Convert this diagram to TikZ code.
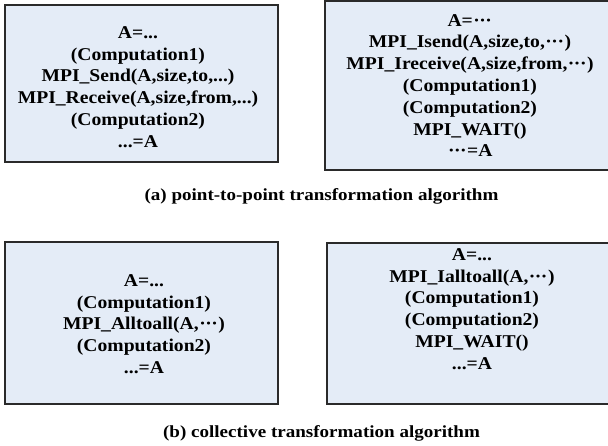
\documentclass[tikz,border=0pt]{standalone}
\usepackage{fontspec}
\setmainfont{Liberation Serif}
\newfontfamily\codefont[FakeStretch=1.09]{Liberation Serif}
\newfontfamily\capfont[FakeStretch=1.12]{Liberation Serif}
\definecolor{boxfill}{HTML}{E4ECF7}
\definecolor{boxline}{HTML}{2A2A2A}
\newcommand{\mdots}{\kern0.5pt·\kern-0.5pt·\kern-0.5pt·\kern0.5pt}
\begin{document}
\begin{tikzpicture}[x=1pt,y=-1pt,
  box/.style={draw=boxline, fill=boxfill, line width=1.1pt, inner sep=0pt, outer sep=0pt, anchor=north west},
  code/.style={align=center, inner sep=0pt, font={\codefont\fontsize{18}{21.8}\selectfont\bfseries}},
  caption/.style={inner sep=0pt, font={\capfont\fontsize{17}{20}\selectfont\bfseries}}]
\useasboundingbox (0,0) rectangle (608,445);
\node[box, minimum width=273pt, minimum height=157pt] (box1) at (5,5) {};
\node[box, minimum width=300pt, minimum height=169pt] (box2) at (325,1) {};
\node[box, minimum width=273pt, minimum height=162pt] (box3) at (5,242) {};
\node[box, minimum width=300pt, minimum height=161pt] (box4) at (327,243) {};
\node[code] (t1) at (138,87) {A=...\\(Computation1)\\MPI\_Send(A,size,to,...)\\MPI\_Receive(A,size,from,...)\\(Computation2)\\...=A};
\node[code] (t2) at (470,85.5) {A=\mdots\\MPI\_Isend(A,size,to,\mdots)\\MPI\_Ireceive(A,size,from,\mdots)\\(Computation1)\\(Computation2)\\MPI\_WAIT()\\\mdots=A};
\node[code] (t3) at (144,324) {A=...\\(Computation1)\\MPI\_Alltoall(A,\mdots)\\(Computation2)\\...=A};
\node[code] (t4) at (472,309) {A=...\\MPI\_Ialltoall(A,\mdots)\\(Computation1)\\(Computation2)\\MPI\_WAIT()\\...=A};
\node[caption] (capa) at (321.5,196) {(a) point-to-point transformation algorithm};
\node[caption] (capb) at (321.5,433) {(b) collective transformation algorithm};
\end{tikzpicture}
\end{document}
